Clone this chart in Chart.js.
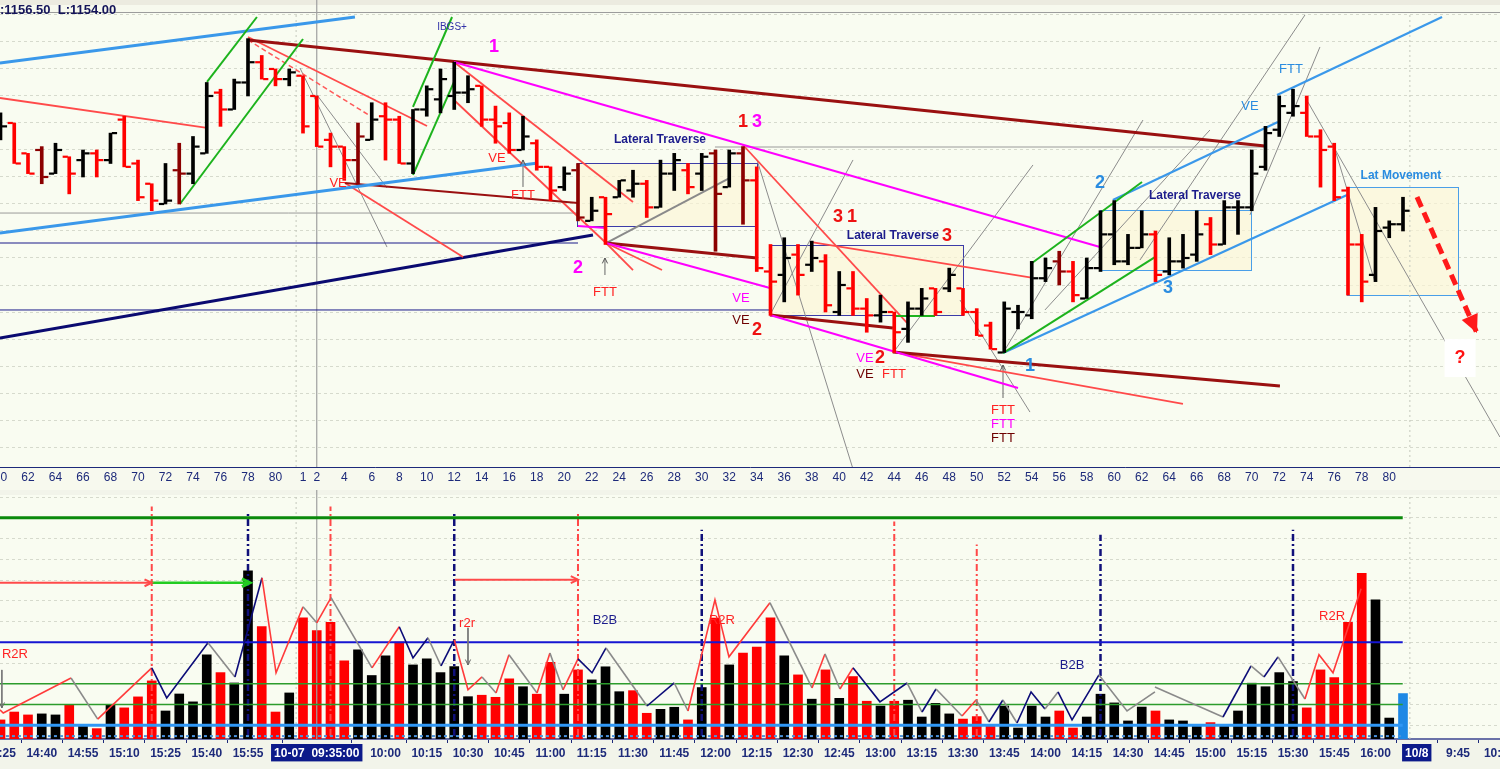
<!DOCTYPE html>
<html>
<head>
<meta charset="utf-8">
<title>ES 5-min chart with volume</title>
<script src="https://cdn.jsdelivr.net/npm/chart.js@4.4.1/dist/chart.umd.min.js"></script>
<style>
  html, body { margin:0; padding:0; background:#f6f8ee; overflow:hidden; }
  #wrap { position:relative; width:1500px; height:769px; }
  canvas { position:absolute; left:0; display:block; }
  #priceCanvas { top:0; }
  #volCanvas { top:490px; }
</style>
</head>
<body>
<div id="wrap">
  <canvas id="priceCanvas" width="1500" height="490"></canvas>
  <canvas id="volCanvas" width="1500" height="279"></canvas>
</div>
<script>
// ---------------- DATA ----------------
// bar index: 0..21 = previous day bars 60..81, 22..102 = 10-07 bars 1..81
const openP = [1161,1162,1159.75,1160,1158.25,1159.5,1159.25,1159.75,1159.25,1162.25,
 1159,1157.5,1156,1158.5,1158.25,1159.75,1164.25,1163,1165,1166.5,
 1166,1165.25,1165.5,1164,1160.75,1160.25,1159.25,1160.75,1162.5,1162.25,
 1159,1163,1163.75,1164,1164.25,1164.75,1162.25,1162,1160,1160.5,
 1158.75,1157.25,1158.5,1154.75,1156.5,1156.5,1157,1157.5,1155.75,1158.25,
 1158.5,1158.25,1159.75,1157.25,1159.75,1157.75,1151,1150.75,1152.25,1151.5,
 1151.75,1148,1149.75,1148.25,1147.75,1148,1146.75,1148.25,1149.75,1149.75,
 1149.75,1148,1147,1145,1148,1147.75,1150.5,1151.75,1151,1149,
 1151.25,1153.75,1151.75,1152.75,1153.75,1151,1151.75,1152.25,1154.5,1153,
 1155.75,1155.75,1158.75,1161.5,1162.75,1162.75,1161,1160.25,1157,1153,
 1150.75,1154.25,1154.5];
const highP = [1162.75,1162,1159.75,1160.25,1160.5,1159.5,1160,1160,1161.25,1162.5,
 1159.25,1157.5,1159,1160.5,1161,1165,1164.5,1165.25,1168.25,1167,
 1166,1166,1165.5,1164,1161.25,1160.25,1162,1163.5,1163.5,1162.5,
 1163,1164.75,1166,1166.5,1165.5,1164.75,1163.25,1162.75,1162.5,1160.75,
 1158.75,1158.75,1159,1156.5,1156.5,1157.75,1158.5,1157.75,1159.25,1159.75,
 1159,1159.75,1160,1160,1160.25,1158.75,1153,1153.5,1153,1153.25,
 1152.25,1151,1151,1149,1149.25,1148,1148.75,1149.75,1149.75,1151.25,
 1149.75,1148.25,1147.25,1148.75,1148.5,1151.75,1152,1152.5,1151.75,1152,
 1155.5,1156.25,1153.75,1155.5,1154,1153.5,1153.75,1155.5,1155,1156.25,
 1156.25,1160,1161.75,1164,1164.5,1164,1161.5,1160.5,1157.25,1153.75,
 1155.75,1154.75,1156.5];
const lowP = [1160.75,1159,1158.25,1157.5,1158.25,1156.75,1158,1158,1159,1158.75,
 1156.25,1155.5,1156,1156,1157.5,1159.75,1161.75,1163,1164,1165.25,
 1164.75,1164.75,1161.25,1160.25,1158.75,1157.75,1157.5,1160.75,1159.25,1159,
 1158.25,1162.5,1162.75,1163,1163.5,1161.75,1160.5,1159.75,1160,1158.5,
 1156.25,1157,1154.75,1154.75,1153,1156.5,1156.5,1155,1155.75,1157,
 1156.75,1157,1152.5,1157.25,1154.5,1151,1147.75,1148.75,1149.25,1151,
 1148,1147.75,1147.75,1146.5,1147.25,1145,1145.75,1147.75,1147.75,1149.5,
 1147.75,1146.25,1145.25,1145,1146.75,1147.5,1150.25,1150,1148.75,1149,
 1151,1151.5,1151.5,1152.75,1150.25,1150.75,1151.25,1151.75,1152.25,1153,
 1153.75,1155.5,1158.5,1161,1162.5,1161,1157.25,1156.25,1149.25,1148.75,
 1150.25,1153.5,1154];
const closeP = [1161.75,1159,1158.25,1158,1160,1158.25,1159.75,1159.25,1161.25,1158.75,
 1156.5,1156.25,1156.25,1158.25,1160.25,1164,1163,1165,1166.5,1165.25,
 1165.25,1165.75,1161.75,1160.25,1160.25,1159.25,1161,1162.25,1162.25,1159,
 1163,1164.5,1165.25,1164.25,1164.5,1162.25,1161.75,1160,1161,1158.75,
 1157,1158.25,1155,1155.5,1155.25,1157.75,1157.5,1155.75,1158.25,1159.25,
 1157.25,1159.5,1156.75,1159.75,1157.75,1151.25,1150.25,1152,1150.75,1152,
 1148.5,1150,1148.25,1147.75,1148,1146.5,1148.25,1149,1148,1150.75,
 1148,1146.25,1145.25,1148.25,1148,1150.5,1151.25,1151,1149.25,1151.25,
 1153.75,1151.75,1152.75,1153.75,1150.75,1151.75,1152,1153.75,1153,1155.75,
 1155.75,1158.25,1161.25,1163.25,1163.25,1161,1160,1156.5,1153,1150.25,
 1154,1154.5,1155.5];
// k = black, r = red, d = dark red, b = current (blue)
const barTone = "krrdkrkrkr" + "rrkdkkrkkr" + "rkrrrrdkrr" + "kkkkkrrrkr" + "rkdkrkkrkk" +
                "rkdkdrrkrk" + "rkrrkrkkrk" + "rrrkkkkdrk" + "kkkkrkkkrk" + "kkkkkrrrrr" + "kkk";
const volume = [12600,16400,15000,15500,15000,20000,9800,8400,20000,18400,
 23700,31400,16900,25100,21300,44000,35400,30400,84500,57600,
 16400,25600,61800,55700,59600,41100,46400,34000,43500,50100,
 39100,42000,35400,38300,23800,24500,23500,32400,28600,25000,
 40400,25000,36700,31900,38200,26200,26700,15800,17700,18700,
 12600,28200,61700,39100,44800,47700,61800,43500,34300,22600,
 36700,23000,33500,21600,19300,21600,22100,14000,20600,15500,
 13000,14200,10100,19300,8700,19300,14000,16900,8700,14000,
 25000,20800,12100,18800,16900,12600,12100,10100,11300,10100,
 16900,30300,28600,35400,31100,18400,36700,33000,59600,83200,
 70500,13500,25300];
const volTone = "rrrkkrkrkr" + "rrkkkkrkkr" + "rkrrrrkkkr" + "kkkkkrrrkr" + "rkrkkkrrkk" +
                "rkrkrrrkrk" + "rkrrkrkkkk" + "rrrkkkkrrk" + "kkkkrkkkrk" + "kkkkkrrrrr" + "kkb";

// tick labels
const topTickIdx = [0,2,4,6,8,10,12,14,16,18,20,22,23,25,27,29,31,33,35,37,39,41,43,45,47,49,51,53,55,57,59,61,63,65,67,69,71,73,75,77,79,81,83,85,87,89,91,93,95,97,99,101];
const topTickLabels = ["60","62","64","66","68","70","72","74","76","78","80","1","2","4","6","8","10","12","14","16","18","20","22","24","26","28","30","32","34","36","38","40","42","44","46","48","50","52","54","56","58","60","62","64","66","68","70","72","74","76","78","80"];
const botTickIdx = [0,3,6,9,12,15,18,23,28,31,34,37,40,43,46,49,52,55,58,61,64,67,70,73,76,79,82,85,88,91,94,97,100,103,106,109];
const botTickLabels = ["14:25","14:40","14:55","15:10","15:25","15:40","15:55","10-07  09:35:00","10:00","10:15","10:30","10:45","11:00","11:15","11:30","11:45","12:00","12:15","12:30","12:45","13:00","13:15","13:30","13:45","14:00","14:15","14:30","14:45","15:00","15:15","15:30","15:45","16:00","10/8","9:45","10:00"];
const highlightTicks = [23, 103];
const priceGrid = [1138,1140,1142,1144,1146,1148,1150,1152,1154,1156,1158,1160,1162,1164,1166,1168,1170];
const volGrid = [10000,20000,30000,40000,50000,60000,70000,80000,90000,100000,110000,120000];

// drawn trend lines in [barIndex0, price0, barIndex1, price1]
const blueThickLines = [[-0.04,1166.44,25.78,1169.85],[-0.04,1153.85,39.09,1159.04]];
const blueLines = [[72.91,1144.96,97.93,1156.67],[80.9,1156.3,92.9,1162.07],[92.84,1164.07,104.84,1169.85]];
const navyThickLines = [[-0.04,1146.07,43.09,1153.7]];
const navyThinLines = [[-0.04,1153.11,42.0,1153.11],[-0.04,1148.15,55.96,1148.15]];
const grayLevelLines = [[-0.04,1155.33,41.93,1155.33],[51.96,1160.22,91.96,1160.22]];
const darkRedThickLines = [[18.0,1168.15,91.96,1160.3],[44.04,1153.11,55.02,1152.0],[55.96,1147.78,64.9,1146.81],[64.9,1145.04,93.05,1142.52]];
const darkRedLines = [[25.05,1157.56,42.0,1156.07]];
const redLines = [[-0.04,1163.85,15.02,1161.63],[18.0,1168.37,31.02,1161.78],[25.05,1157.56,33.64,1152.07],
  [32.98,1166.52,46.0,1156.15],[32.98,1163.7,44.04,1153.11],[44.04,1153.11,46.0,1151.11],[44.04,1153.11,48.11,1151.11],
  [54.0,1160.37,65.93,1147.19],[58.87,1153.19,75.09,1150.52],[64.9,1145.04,86.0,1141.19]];
const redDashedLines = [[18.0,1168.15,27.02,1162.44]];
const greenLines = [[13.05,1156.0,22.0,1168.22],[15.02,1165.04,18.65,1169.85],[30.0,1158.15,33.05,1165.19],[30.0,1163.19,32.84,1169.85],
  [75.02,1151.63,83.02,1157.63],[72.91,1144.96,83.96,1152.07],[64.9,1147.7,67.96,1147.7]];
const grayLines = [[21.78,1166.07,28.11,1152.81],[23.02,1164.07,28.11,1157.19],[55.02,1159.26,62.36,1135.19],[55.96,1147.78,62.0,1159.26],
  [64.9,1144.96,75.09,1158.89],[69.78,1148.89,74.87,1140.59],[72.91,1144.96,83.09,1162.22],[75.96,1148.15,87.96,1161.48],
  [82.87,1151.85,94.87,1170.0],[90.87,1155.19,95.96,1167.63],[94.87,1163.93,109.05,1138.74],[96.91,1160.52,99.96,1150.22]];
const grayMediumLines = [[44.04,1153.11,53.05,1157.93]];
const magentaLines = [[32.98,1166.52,79.96,1152.81],[44.04,1153.11,55.96,1149.78],[55.96,1147.78,74.0,1142.37],[42.0,1154.37,44.04,1154.22]];
const grayArrows = [[38.0,1157.26,38.0,1159.26],[43.96,1150.74,43.96,1152.0],[72.91,1141.63,72.91,1144.07]];
const projectionArrow = [[103.02,1156.52,107.38,1146.44]];
// boxes [i0, i1, priceTop, priceBottom]
const lateralBoxes = [[41.93,55.02,1159.04,1154.37],[55.96,70.0,1152.96,1147.78]];
const lateralBoxesBlue = [[79.96,90.95,1155.56,1151.11],[97.93,106.0,1157.26,1149.26]];
const daySplits = [21.5, 102.5];
const cursorIdx = 23;

const topTexts = [
 [':1156.50  L:1154.00', -0.04, 1170.37, 'hdr'],
 ['IBGS+', 32.84, 1169.1, 'small'],
 ['1', 35.89, 1167.63, 'numMag'],
 ['VE', 24.55, 1157.56, 'red'],
 ['VE', 36.11, 1159.41, 'red'],
 ['FTT', 38.0, 1156.67, 'red'],
 ['Lateral Traverse', 47.96, 1160.74, 'navyBold'],
 ['1', 54.0, 1162.07, 'numRed'],
 ['3', 55.02, 1162.07, 'numMag'],
 ['2', 42.0, 1151.26, 'numMag'],
 ['FTT', 43.96, 1149.48, 'red'],
 ['3', 60.91, 1155.04, 'numRed'],
 ['1', 61.93, 1155.04, 'numRed'],
 ['Lateral Traverse', 64.9, 1153.63, 'navyBold'],
 ['3', 68.84, 1153.63, 'numRed'],
 ['VE', 53.85, 1149.04, 'mag'],
 ['VE', 53.85, 1147.41, 'dred'],
 ['2', 55.02, 1146.67, 'numRed'],
 ['VE', 62.87, 1144.59, 'mag'],
 ['2', 63.96, 1144.59, 'numRed'],
 ['VE', 62.87, 1143.41, 'dred'],
 ['FTT', 64.98, 1143.41, 'red'],
 ['FTT', 72.91, 1140.74, 'red'],
 ['FTT', 72.91, 1139.7, 'mag'],
 ['FTT', 72.91, 1138.67, 'dred'],
 ['1', 74.87, 1144.0, 'numBlue'],
 ['2', 79.96, 1157.56, 'numBlue'],
 ['3', 84.91, 1149.78, 'numBlue'],
 ['Lateral Traverse', 86.87, 1156.59, 'navyBold'],
 ['VE', 90.87, 1163.19, 'blue'],
 ['FTT', 93.85, 1165.93, 'blue'],
 ['Lat Movement', 101.85, 1158.07, 'blueBold'],
 ['?', 106.15, 1144.59, 'question']
];

// volume panel overlays
const volLevels = [110000, 50000, 30000, 20000, 10000, 4800];
const volLevelEnd = 101.98;
const zzIdx = [-0.04,0.2,5.13,7.07,11.0,12.09,15.09,17.05,19.02,20.04,22.0,23.0,24.04,27.02,29.0,30.0,31.09,32.04,33.0,34.0,
  35.02,36.04,36.98,39.02,39.96,40.91,42.0,43.02,44.04,47.02,49.0,50.0,51.96,52.98,55.96,59.02,59.96,61.05,62.0,63.96,
  65.93,67.02,68.04,69.93,70.95,71.89,72.9,73.93,74.95,75.96,76.91,77.93,79.89,81.93,83.96,83.96,83.96,88.91,90.95,91.89,
  92.91,94.87,95.89,96.91,98.95];
const zzVol = [17400,15900,32800,13000,37700,23200,49800,33300,81100,35300,67100,59400,71500,37700,57500,42500,52200,38600,51200,27100,
  33300,25600,44000,25600,44900,27100,42000,35300,47300,19300,30400,16900,70500,43000,69100,28000,44400,27500,37700,21300,
  30400,16400,27500,14500,22200,11600,22200,11100,26100,17900,26100,12600,34300,16900,26100,null,28500,14000,38600,33300,
  43000,22700,44000,35300,75800];
const zzTone = "rrgrnngnrrgrgrnngnrrgrgrgrnngngrrrgrgrnngngrgngnngnngg--gngngrrr";
const volArrowsRed = [[-0.04,78700,11.0,78700],[33.05,80200,42.0,80200]];
const volArrowsGreen = [[11.0,78700,18.15,78700]];
const volArrowsGray = [[0.1,36700,0.1,18400],[34.0,57000,34.0,39100]];
const redMarkerIdx = [11,24,42,65,71];
const redMarkerTop = [115400,115400,112500,108200,97100];
const navyMarkerIdx = [18,33,51,80,94];
const navyMarkerTop = [112500,112500,104300,101900,104300];
const markerBottom = 4800;
const volTexts = [
 ['R2R', 1.05, 43950, 'red'], ['r2r', 33.93, 58930, 'red'], ['B2B', 43.96, 60380, 'navy'],
 ['R2R', 52.47, 60380, 'red'], ['B2B', 77.93, 38640, 'navy'], ['R2R', 96.84, 62310, 'red']
];

// ---------------- STYLE / HELPERS ----------------
const FONT = "'Liberation Sans', Arial, sans-serif";
const X_MIN = -0.036, X_MAX = 109.055;
const P_MIN = 1136.52, P_MAX = 1170.22;
const V_MIN = 3400, V_MAX = 121000;
const TONE = {k:'#000000', r:'#ff0000', d:'#8b0000', b:'#1e88e5'};
const ZZ = {r:'#ff3b3b', g:'#8a8a8a', n:'#0c0c78'};

function segSets(list, style, order) {
  return list.map(s => Object.assign({
    type:'line', data:[{x:s[0], y:s[1]}, {x:s[2], y:s[3]}],
    pointRadius:0, pointHoverRadius:0, fill:false, tension:0, order: order ?? 10
  }, style));
}
function arrowHead(ctx, x0, y0, x1, y1, size, color, filled, lw) {
  const a = Math.atan2(y1 - y0, x1 - x0);
  ctx.save();
  ctx.strokeStyle = color; ctx.fillStyle = color; ctx.lineWidth = lw || 1.5;
  ctx.beginPath();
  ctx.moveTo(x1 - size * Math.cos(a - 0.45), y1 - size * Math.sin(a - 0.45));
  ctx.lineTo(x1, y1);
  ctx.lineTo(x1 - size * Math.cos(a + 0.45), y1 - size * Math.sin(a + 0.45));
  if (filled) { ctx.closePath(); ctx.fill(); } else { ctx.stroke(); }
  ctx.restore();
}
function drawTexts(chart, list, styles) {
  const {ctx} = chart, xs = chart.scales.x, ys = chart.scales.y;
  list.forEach(([t, xi, yv, st]) => {
    const s = styles[st];
    const px = xs.getPixelForValue(xi), py = ys.getPixelForValue(yv);
    ctx.save();
    ctx.font = s.font; ctx.textAlign = s.align || 'center'; ctx.textBaseline = 'middle';
    if (s.bg) {
      const w = ctx.measureText(t).width + 20;
      ctx.fillStyle = s.bg;
      ctx.fillRect(px - w / 2, py - 19, w, 38);
    }
    ctx.fillStyle = s.color;
    ctx.fillText(t, px, py);
    ctx.restore();
  });
}
const textStyles = {
  hdr: {font:'bold 13px ' + FONT, color:'#14145a', align:'left'},
  small: {font:'10px ' + FONT, color:'#3232a8'},
  numMag: {font:'bold 18px ' + FONT, color:'#ff00ff'},
  numRed: {font:'bold 18px ' + FONT, color:'#ee1111'},
  numBlue: {font:'bold 18px ' + FONT, color:'#2a8ce0'},
  red: {font:'13px ' + FONT, color:'#ff2222'},
  mag: {font:'13px ' + FONT, color:'#ff00ff'},
  dred: {font:'13px ' + FONT, color:'#6e0000'},
  blue: {font:'13px ' + FONT, color:'#2a8ce0'},
  navyBold: {font:'bold 12px ' + FONT, color:'#1c1c8c'},
  blueBold: {font:'bold 12px ' + FONT, color:'#2a8ce0'},
  question: {font:'bold 18px ' + FONT, color:'#ff1111', bg:'#ffffff'},
  navy: {font:'13px ' + FONT, color:'#1c1c8c'}
};

// ---------------- PRICE CHART ----------------
const priceTones = barTone.split('').map(c => TONE[c]);
const topSets = [];
topSets.push({type:'bar', label:'range', data: highP.map((h, i) => ({x:i, y:[lowP[i], h]})),
  backgroundColor: priceTones, barThickness:3, grouped:false, borderWidth:0, order:0});
topSets.push({type:'line', label:'open', data: openP.map((v, i) => ({x:i - 0.29, y:v})), showLine:false,
  pointStyle:'line', pointRadius:2.6, pointHoverRadius:2.6, pointBorderWidth:2.2, pointBorderColor: priceTones, order:0});
topSets.push({type:'line', label:'close', data: closeP.map((v, i) => ({x:i + 0.29, y:v})), showLine:false,
  pointStyle:'line', pointRadius:2.6, pointHoverRadius:2.6, pointBorderWidth:2.2, pointBorderColor: priceTones, order:0});
topSets.push(...segSets(projectionArrow, {borderColor:'#ff1a1a', borderWidth:5, borderDash:[11,6]}, 1));
topSets.push(...segSets(greenLines, {borderColor:'#1db31d', borderWidth:2}, 5));
topSets.push(...segSets(blueThickLines, {borderColor:'#3a98ea', borderWidth:3}, 6));
topSets.push(...segSets(blueLines, {borderColor:'#3a98ea', borderWidth:2.2}, 6));
topSets.push(...segSets(magentaLines, {borderColor:'#ff00ff', borderWidth:2}, 7));
topSets.push(...segSets(darkRedThickLines, {borderColor:'#9a1010', borderWidth:3}, 7));
topSets.push(...segSets(darkRedLines, {borderColor:'#9a1010', borderWidth:2}, 7));
topSets.push(...segSets(redLines, {borderColor:'#ff4a4a', borderWidth:1.8}, 8));
topSets.push(...segSets(redDashedLines, {borderColor:'#ff5a5a', borderWidth:1.5, borderDash:[5,3]}, 8));
topSets.push(...segSets(navyThickLines, {borderColor:'#0a0a70', borderWidth:3}, 8));
topSets.push(...segSets(navyThinLines, {borderColor:'#1a1a8a', borderWidth:1}, 9));
topSets.push(...segSets(grayMediumLines, {borderColor:'#8a8a8a', borderWidth:2}, 9));
topSets.push(...segSets(grayLines, {borderColor:'#8c8c8c', borderWidth:1}, 9));
topSets.push(...segSets(grayLevelLines, {borderColor:'#9a9a9a', borderWidth:1}, 9));
topSets.push(...segSets(grayArrows, {borderColor:'#666666', borderWidth:1}, 9));
topSets.push(...segSets(daySplits.map(d => [d, P_MIN, d, P_MAX]), {borderColor:'#c4c8bc', borderWidth:1, borderDash:[2,3]}, 11));
topSets.push(...segSets([[cursorIdx, P_MIN, cursorIdx, P_MAX + 1]], {borderColor:'#a0a0a0', borderWidth:1.2, clip:false}, 11));

const topPlugin = {
  id:'topDeco',
  beforeDraw(chart) {
    const {ctx, chartArea:a} = chart;
    ctx.save();
    ctx.fillStyle = '#f7f9ee'; ctx.fillRect(0, 0, chart.width, chart.height);
    ctx.fillStyle = '#f9fcf1'; ctx.fillRect(a.left, a.top, a.right - a.left, a.bottom - a.top);
    ctx.fillStyle = '#ecebe0'; ctx.fillRect(0, 0, chart.width, 5);
    ctx.restore();
  },
  beforeDatasetsDraw(chart) {
    const {ctx} = chart, xs = chart.scales.x, ys = chart.scales.y;
    const drawBoxes = (list, stroke) => list.forEach(b => {
      const x0 = xs.getPixelForValue(b[0]), x1 = xs.getPixelForValue(b[1]);
      const y0 = ys.getPixelForValue(b[2]), y1 = ys.getPixelForValue(b[3]);
      ctx.save();
      ctx.fillStyle = 'rgba(252,246,214,0.65)';
      ctx.fillRect(x0, y0, x1 - x0, y1 - y0);
      ctx.strokeStyle = stroke; ctx.lineWidth = 1;
      ctx.strokeRect(Math.round(x0) + 0.5, Math.round(y0) + 0.5, Math.round(x1 - x0), Math.round(y1 - y0));
      ctx.restore();
    });
    drawBoxes(lateralBoxes, '#3c3ca8');
    drawBoxes(lateralBoxesBlue, '#4a9fe8');
    ctx.save(); ctx.strokeStyle = '#9c9c9c'; ctx.lineWidth = 1;
    ctx.beginPath(); ctx.moveTo(0, chart.chartArea.top + 0.5); ctx.lineTo(chart.width, chart.chartArea.top + 0.5); ctx.stroke();
    ctx.restore();
  },
  afterDatasetsDraw(chart) {
    const {ctx} = chart, xs = chart.scales.x, ys = chart.scales.y;
    grayArrows.forEach(s => arrowHead(ctx, xs.getPixelForValue(s[0]), ys.getPixelForValue(s[1]),
      xs.getPixelForValue(s[2]), ys.getPixelForValue(s[3]), 6, '#555555', false, 1));
    projectionArrow.forEach(s => arrowHead(ctx, xs.getPixelForValue(s[0]), ys.getPixelForValue(s[1]),
      xs.getPixelForValue(s[2]), ys.getPixelForValue(s[3]), 20, '#ff1a1a', true));
    drawTexts(chart, topTexts, textStyles);
  }
};

new Chart(document.getElementById('priceCanvas'), {
  type:'bar',
  data:{datasets: topSets},
  options:{
    responsive:false, animation:false, devicePixelRatio:1, events:[],
    layout:{autoPadding:false, padding:{top:12, left:0, right:0, bottom:0}},
    plugins:{legend:{display:false}, tooltip:{enabled:false}},
    scales:{
      x:{type:'linear', min:X_MIN, max:X_MAX, offset:false,
        grid:{display:false, drawTicks:false}, border:{display:true, color:'#1d2a7a', width:1},
        afterBuildTicks(s){ s.ticks = topTickIdx.map(v => ({value:v})); },
        afterFit(s){ s.height = 23; s.paddingLeft = 0; s.paddingRight = 0; },
        ticks:{autoSkip:false, maxRotation:0, minRotation:0, padding:3, color:'#1d2a7a',
          font:{family:FONT, size:12},
          callback(v){ const k = topTickIdx.indexOf(v); return k >= 0 ? topTickLabels[k] : ''; }}},
      y:{type:'linear', min:P_MIN, max:P_MAX,
        afterBuildTicks(s){ s.ticks = priceGrid.map(v => ({value:v})); },
        afterFit(s){ s.width = 0; },
        ticks:{display:false},
        grid:{color:'#d6dacd', drawTicks:false, lineWidth:1},
        border:{display:false, dash:[3,3]}}
    }
  },
  plugins:[topPlugin]
});

// ---------------- VOLUME CHART ----------------
const volTones = volTone.split('').map(c => TONE[c]);
const botSets = [];
const levelStyles = [
  {borderColor:'#0b8a0b', borderWidth:3},
  {borderColor:'#1616d2', borderWidth:2},
  {borderColor:'#2c9c2c', borderWidth:1.6},
  {borderColor:'#2c9c2c', borderWidth:1.6},
  {borderColor:'#2f97f5', borderWidth:3},
  {borderColor:'#4a93dc', borderWidth:2, borderDash:[3,3]}
];
volLevels.forEach((lv, k) => botSets.push(...segSets([[-0.04, lv, volLevelEnd, lv]], levelStyles[k], 2)));
botSets.push({type:'line', label:'swing', data: zzIdx.map((x, k) => ({x, y: zzVol[k]})), pointRadius:0, pointHoverRadius:0,
  borderWidth:1.6, borderColor:'#8a8a8a', spanGaps:false, tension:0, fill:false, order:1,
  segment:{borderColor: c => ZZ[zzTone[c.p0DataIndex]]}});
botSets.push(...segSets(volArrowsRed, {borderColor:'#ff4a4a', borderWidth:2}, 1));
botSets.push(...segSets(volArrowsGreen, {borderColor:'#22cc22', borderWidth:2.5}, 1));
botSets.push(...segSets(volArrowsGray, {borderColor:'#777777', borderWidth:1}, 1));
botSets.push(...segSets(redMarkerIdx.map((x, k) => [x, markerBottom, x, redMarkerTop[k]]),
  {borderColor:'#ff4848', borderWidth:2, borderDash:[7,3,2,3]}, 3));
botSets.push(...segSets(navyMarkerIdx.map((x, k) => [x, markerBottom, x, navyMarkerTop[k]]),
  {borderColor:'#10107a', borderWidth:2.5, borderDash:[7,3,2,3]}, 3));
botSets.push({type:'bar', label:'volume', data: volume.map((v, i) => ({x:i, y:v})), backgroundColor: volTones,
  barThickness:9, grouped:false, borderWidth:0, order:10});
botSets.push(...segSets(daySplits.map(d => [d, V_MIN, d, V_MAX]), {borderColor:'#c4c8bc', borderWidth:1, borderDash:[2,3]}, 11));
botSets.push(...segSets([[cursorIdx, V_MIN, cursorIdx, V_MAX + 3000]], {borderColor:'#a0a0a0', borderWidth:1.2, clip:false}, 4));

const botPlugin = {
  id:'botDeco',
  beforeDraw(chart) {
    const {ctx, chartArea:a} = chart;
    ctx.save();
    ctx.fillStyle = '#f2f4ea'; ctx.fillRect(0, 0, chart.width, chart.height);
    ctx.fillStyle = '#f9fcf1'; ctx.fillRect(a.left, a.top, a.right - a.left, a.bottom - a.top);
    ctx.restore();
  },
  afterDatasetsDraw(chart) {
    const {ctx} = chart, xs = chart.scales.x, ys = chart.scales.y;
    volArrowsRed.forEach(s => arrowHead(ctx, xs.getPixelForValue(s[0]), ys.getPixelForValue(s[1]),
      xs.getPixelForValue(s[2]), ys.getPixelForValue(s[3]), 8, '#ff4a4a', false, 2));
    volArrowsGreen.forEach(s => arrowHead(ctx, xs.getPixelForValue(s[0]), ys.getPixelForValue(s[1]),
      xs.getPixelForValue(s[2]), ys.getPixelForValue(s[3]), 9, '#22cc22', false, 3));
    volArrowsGray.forEach(s => arrowHead(ctx, xs.getPixelForValue(s[0]), ys.getPixelForValue(s[1]),
      xs.getPixelForValue(s[2]), ys.getPixelForValue(s[3]), 6, '#666666', false, 1));
    drawTexts(chart, volTexts, textStyles);
  }
};

new Chart(document.getElementById('volCanvas'), {
  type:'bar',
  data:{datasets: botSets},
  options:{
    responsive:false, animation:false, devicePixelRatio:1, events:[],
    layout:{autoPadding:false, padding:{top:5, left:0, right:0, bottom:0}},
    plugins:{legend:{display:false}, tooltip:{enabled:false}},
    scales:{
      x:{type:'linear', min:X_MIN, max:X_MAX, offset:false,
        grid:{display:true, drawOnChartArea:false, drawTicks:true, tickLength:4, color:'#1d2a7a'},
        border:{display:true, color:'#6a72a8', width:2},
        afterBuildTicks(s){ s.ticks = botTickIdx.map(v => ({value:v})); },
        afterFit(s){ s.height = 30; s.paddingLeft = 0; s.paddingRight = 0; },
        ticks:{autoSkip:false, maxRotation:0, minRotation:0, padding:3,
          font:{family:FONT, size:12, weight:'bold'},
          color: c => highlightTicks.includes(c.tick && c.tick.value) ? '#ffffff' : '#1d2a7a',
          showLabelBackdrop: c => highlightTicks.includes(c.tick && c.tick.value),
          backdropColor:'#0c1a8a', backdropPadding:{left:3, right:3, top:2, bottom:1},
          callback(v){ const k = botTickIdx.indexOf(v); return k >= 0 ? botTickLabels[k] : ''; }}},
      y:{type:'linear', min:V_MIN, max:V_MAX,
        afterBuildTicks(s){ s.ticks = volGrid.map(v => ({value:v})); },
        afterFit(s){ s.width = 0; },
        ticks:{display:false},
        grid:{color:'#d6dacd', drawTicks:false, lineWidth:1},
        border:{display:false, dash:[3,3]}}
    }
  },
  plugins:[botPlugin]
});
</script>
</body>
</html>
